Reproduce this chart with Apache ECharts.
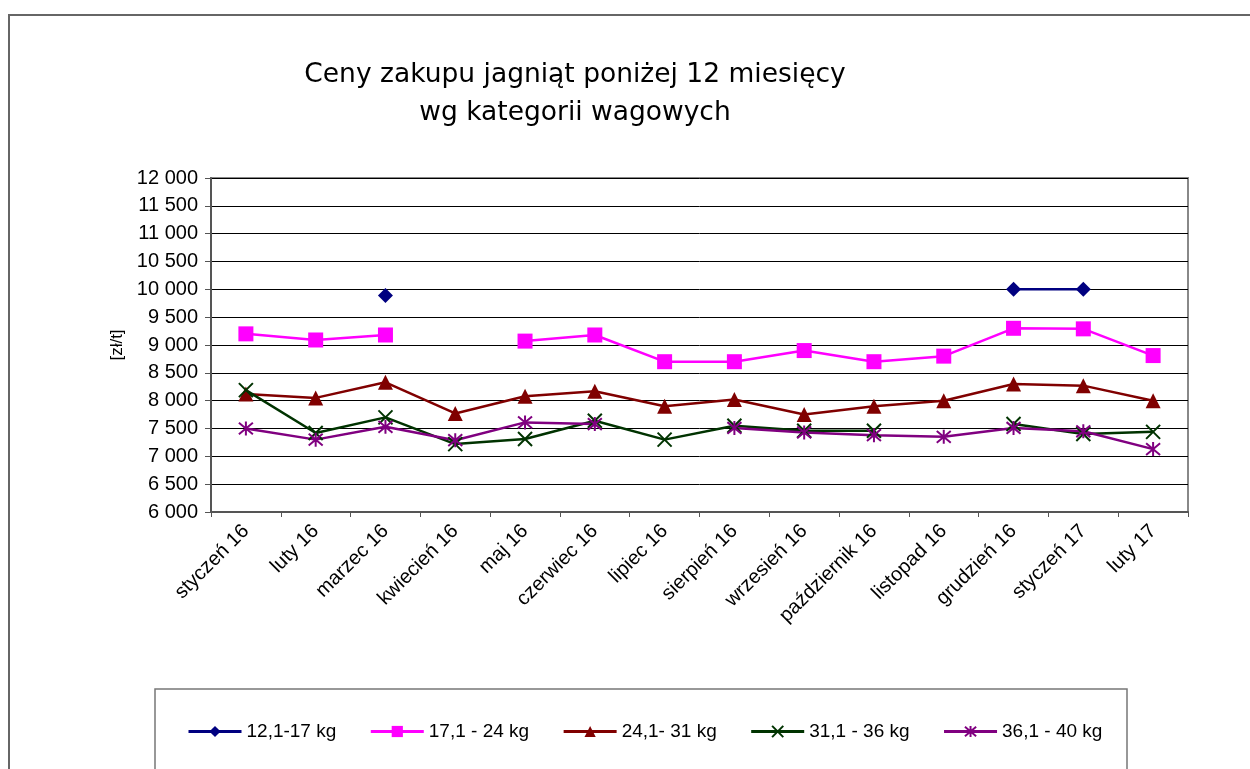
<!DOCTYPE html>
<html>
<head>
<meta charset="utf-8">
<script src="https://cdn.jsdelivr.net/npm/echarts@6/dist/echarts.min.js"></script>
<style>
html,body{margin:0;padding:0;background:#fff;}
#c{width:1250px;height:769px;}
</style>
</head>
<body>
<div id="c"></div>
<script>
const categories = ['styczeń 16','luty 16','marzec 16','kwiecień 16','maj 16','czerwiec 16','lipiec 16','sierpień 16','wrzesień 16','październik 16','listopad 16','grudzień 16','styczeń 17','luty 17'];
const s12_17 = [null,null,9890,null,null,null,null,null,null,null,null,10000,10000,null];
const s17_24 = [9200,9090,9180,null,9070,9180,8700,8700,8900,8700,8800,9300,9290,8810];
const s24_31 = [8120,8050,8330,7770,8080,8170,7900,8020,7750,7900,8000,8300,8270,8000];
const s31_36 = [8190,7420,7700,7220,7310,7640,7300,7550,7460,7460,null,7580,7400,7440];
const s36_40 = [7500,7300,7530,7290,7610,7580,null,7510,7430,7380,7350,7510,7450,7130];
const seriesNames = ['12,1-17 kg','17,1 - 24 kg','24,1- 31 kg','31,1 - 36 kg','36,1 - 40 kg'];
const yTicks = {min:6000,max:12000,interval:500};

const fmt = v => String(v).replace(/\B(?=(\d{3})+(?!\d))/g,' ');
const FONT = '"Liberation Sans", Arial, sans-serif';

const chart = echarts.init(document.getElementById('c'), null, {renderer:'canvas'});

function mk(name, data, color, symbol, size, stroke){
  return {
    name, type:'line', data, connectNulls:false, showSymbol:true, showAllSymbol:true,
    symbol, symbolSize:size, animation:false,
    lineStyle:{color, width:2.5},
    itemStyle: stroke ? {color:'rgba(0,0,0,0)', borderColor:color, borderWidth:2} : {color, borderWidth:0},
    emphasis:{disabled:true}
  };
}

chart.setOption({
  backgroundColor:'#fff',
  animation:false,
  title:{
    text:'Ceny zakupu jagniąt poniżej 12 miesięcy\nwg kategorii wagowych',
    left:570, top:51, textAlign:'center',
    textStyle:{fontFamily:'"Comic Sans MS","DejaVu Sans",sans-serif', fontSize:26.5, fontWeight:'normal', color:'#000', lineHeight:38}
  },
  graphic:[
    {type:'rect', shape:{x:9,y:15,width:1300,height:800}, style:{fill:'none',stroke:'#666',lineWidth:2}, silent:true, z:-1},
    {type:'rect', shape:{x:155,y:689,width:972,height:120}, style:{fill:'none',stroke:'#777',lineWidth:1.5}, silent:true, z:-1},
    {type:'rect', shape:{x:211,y:178,width:977,height:334}, style:{fill:'none',stroke:'#888',lineWidth:2}, silent:true, z:-1}
  ],
  legend:{
    left:182, top:717, itemWidth:53, itemHeight:14, itemGap:33,
    lineStyle:{width:3},
    textStyle:{fontFamily:FONT, fontSize:19, color:'#000'},
    data:seriesNames
  },
  grid:{left:211, top:178, right:62, bottom:257, containLabel:false},
  xAxis:{
    type:'category', data:categories, boundaryGap:true,
    axisLine:{lineStyle:{color:'#555', width:2}},
    axisTick:{show:true, length:5, lineStyle:{color:'#555'}},
    axisLabel:{rotate:45, interval:0, fontFamily:FONT, fontSize:20, color:'#000', margin:16},
    splitLine:{show:false}
  },
  yAxis:{
    type:'value', min:yTicks.min, max:yTicks.max, interval:yTicks.interval,
    name:'[zł/t]', nameLocation:'middle', nameRotate:90, nameGap:74,
    nameTextStyle:{fontFamily:FONT, fontSize:17, color:'#000'},
    axisLine:{show:true, lineStyle:{color:'#555', width:2}},
    axisTick:{show:true, length:6, lineStyle:{color:'#555'}},
    axisLabel:{fontFamily:FONT, fontSize:20, color:'#000', margin:13, formatter:fmt},
    splitLine:{show:true, lineStyle:{color:'#000', width:1}}
  },
  series:[
    mk(seriesNames[0], s12_17, '#000080', 'diamond', 15, false),
    mk(seriesNames[1], s17_24, '#FF00FF', 'rect', 15, false),
    mk(seriesNames[2], s24_31, '#800000', 'triangle', 15, false),
    mk(seriesNames[3], s31_36, '#003300', 'path://M0,0L10,10M10,0L0,10', 14, true),
    mk(seriesNames[4], s36_40, '#800080', 'path://M0,0L10,10M10,0L0,10M5,-1L5,11', 14, true)
  ]
});
</script>
</body>
</html>
